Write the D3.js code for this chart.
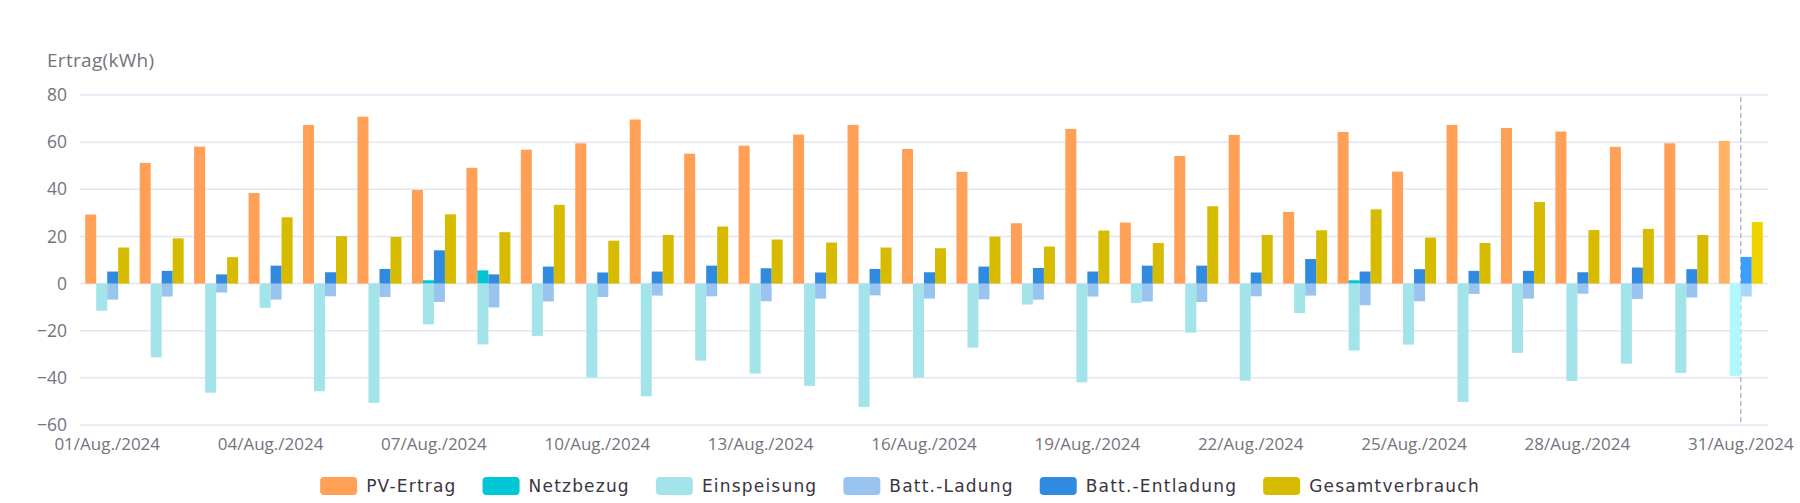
<!DOCTYPE html>
<html>
<head>
<meta charset="utf-8">
<script src="https://cdn.jsdelivr.net/npm/d3@7"></script>
<style>
  html, body { margin: 0; padding: 0; background: #fff; }
  svg { display: block; font-family: "Open Sans", "Noto Sans", sans-serif; }
</style>
</head>
<body>
<svg id="chart" width="1800" height="503"></svg>
<script>
// daily values, Aug 2024 (kWh)
const days = d3.range(1, 32).map((d) => `${String(d).padStart(2, "0")}/Aug./2024`);
const pvErtrag = [29.3, 51.2, 58.1, 38.4, 67.3, 70.8, 39.7, 49.1, 56.8, 59.5, 69.6, 55.1, 58.5, 63.2, 67.3,
  57.1, 47.4, 25.6, 65.6, 25.9, 54.1, 63.1, 30.4, 64.3, 47.5, 67.3, 66.0, 64.5, 58.0, 59.5, 60.5];
const netzbezug = [0, 0, 0, 0, 0, 0, 1.4, 5.6, 0, 0, 0, 0, 0, 0, 0,
  0, 0, 0, 0, 0, 0, 0, 0, 1.4, 0, 0, 0, 0, 0, 0, 0];
const einspeisung = [-11.5, -31.3, -46.3, -10.3, -45.7, -50.6, -17.3, -25.8, -22.2, -39.8, -47.8, -32.7, -38.2, -43.4, -52.3,
  -39.9, -27.2, -8.9, -41.9, -8.2, -20.8, -41.2, -12.5, -28.4, -25.9, -50.2, -29.4, -41.3, -34.0, -37.9, -39.3];
const battLadung = [-6.8, -5.5, -3.8, -6.8, -5.4, -5.7, -7.8, -10.1, -7.6, -5.7, -5.1, -5.4, -7.5, -6.4, -5.0,
  -6.4, -6.7, -6.8, -5.5, -7.6, -7.8, -5.4, -5.1, -9.2, -7.5, -4.4, -6.4, -4.3, -6.5, -5.9, -5.5];
const battEntladung = [5.1, 5.4, 3.9, 7.6, 4.8, 6.2, 14.1, 3.9, 7.2, 4.7, 5.1, 7.6, 6.5, 4.7, 6.2,
  4.8, 7.2, 6.6, 5.1, 7.6, 7.6, 4.7, 10.4, 5.1, 6.1, 5.4, 5.4, 4.8, 6.8, 6.1, 11.3];
const gesamtverbrauch = [15.3, 19.2, 11.2, 28.1, 20.1, 19.8, 29.4, 21.8, 33.4, 18.2, 20.6, 24.2, 18.7, 17.4, 15.3,
  15.0, 19.9, 15.7, 22.5, 17.2, 32.8, 20.6, 22.6, 31.5, 19.5, 17.2, 34.6, 22.7, 23.2, 20.6, 26.1];
const yTicks = [-60, -40, -20, 0, 20, 40, 60, 80];

// slot = position inside the day group (grid and battery are stacked pairs)
const series = [
  { name: "PV-Ertrag", values: pvErtrag, slot: 0, color: "#ffa056", hi: "#ffb262" },
  { name: "Netzbezug", values: netzbezug, slot: 1, color: "#00c6d6", hi: "#00e0f0" },
  { name: "Einspeisung", values: einspeisung, slot: 1, color: "#a2e4ea", hi: "#b0f8fd" },
  { name: "Batt.-Ladung", values: battLadung, slot: 2, color: "#99c4ef", hi: "#a9d8ff" },
  { name: "Batt.-Entladung", values: battEntladung, slot: 2, color: "#2f8ae0", hi: "#3a9ffa" },
  { name: "Gesamtverbrauch", values: gesamtverbrauch, slot: 3, color: "#d6bb00", hi: "#eed300" },
];
const hoverIdx = 30; // last day shown with hover highlight

const svg = d3.select("#chart");
const margin = { left: 80, right: 32, top: 95, bottom: 78 };
const W = 1800, H = 503;

const x = d3.scaleBand().domain(days).range([margin.left, W - margin.right]).padding(0);
const groupPad = x.bandwidth() * 0.096;
const xs = d3.scaleBand().domain([0, 1, 2, 3]).range([groupPad, x.bandwidth() - groupPad]).padding(0);
const y = d3.scaleLinear().domain([-60, 80]).range([H - margin.bottom, margin.top]);

// grid
svg.append("g").selectAll("line").data(yTicks).join("line")
  .attr("x1", margin.left).attr("x2", W - margin.right)
  .attr("y1", (d) => y(d)).attr("y2", (d) => y(d))
  .attr("stroke", "#e3e5f3").attr("stroke-width", 1.5);

// y axis labels
const yAxis = svg.append("g")
  .attr("transform", `translate(${margin.left - 13},0)`)
  .call(d3.axisLeft(y).tickValues(yTicks).tickSize(0).tickPadding(0));
yAxis.select(".domain").remove();
yAxis.selectAll("text")
  .attr("font-family", "Open Sans, sans-serif")
  .attr("font-size", 17.5).attr("fill", "#77727e");

svg.append("text")
  .attr("x", 47).attr("y", 67)
  .attr("font-size", 19).attr("fill", "#77727e")
  .attr("letter-spacing", 0.3)
  .text("Ertrag(kWh)");

// x axis labels, every third day
const xAxis = svg.append("g")
  .attr("transform", `translate(0,${y(-60) + 9})`)
  .call(d3.axisBottom(x).tickValues(days.filter((d, i) => i % 3 === 0)).tickSize(0).tickPadding(0));
xAxis.select(".domain").remove();
xAxis.selectAll("text")
  .attr("font-family", "Open Sans, sans-serif")
  .attr("font-size", 17).attr("fill", "#77727e")
  .attr("dy", "0.95em");

// hover pointer line
const px = x(days[hoverIdx]) + x.bandwidth() / 2;
svg.append("line")
  .attr("x1", px).attr("x2", px)
  .attr("y1", y(80) + 2).attr("y2", y(-60))
  .attr("stroke", "#b9b9c9").attr("stroke-width", 1.5)
  .attr("stroke-dasharray", "5,3");

// bars
const barsG = svg.append("g");
series.forEach((s) => {
  barsG.append("g").selectAll("rect").data(s.values).join("rect")
    .attr("x", (d, i) => x(days[i]) + xs(s.slot))
    .attr("width", xs.bandwidth())
    .attr("y", (d) => Math.min(y(d), y(0)))
    .attr("height", (d) => Math.abs(y(d) - y(0)))
    .attr("fill", (d, i) => (i === hoverIdx ? s.hi : s.color));
});

// legend
const legend = svg.append("g").attr("transform", `translate(0,477)`);
let lx = 0;
series.forEach((s) => {
  const g = legend.append("g").attr("transform", `translate(${lx},0)`);
  g.append("rect").attr("width", 37).attr("height", 18).attr("rx", 4).attr("fill", s.color);
  const t = g.append("text")
    .attr("x", 46).attr("y", 9).attr("dy", "0.35em")
    .attr("font-family", "DejaVu Sans, sans-serif")
    .attr("font-size", 17).attr("fill", "#3a3542")
    .attr("letter-spacing", 1.2)
    .text(s.name);
  lx += 46 + t.node().getComputedTextLength() + 26;
});
lx -= 26;
legend.attr("transform", `translate(${(W - lx) / 2},477)`);
</script>
</body>
</html>
